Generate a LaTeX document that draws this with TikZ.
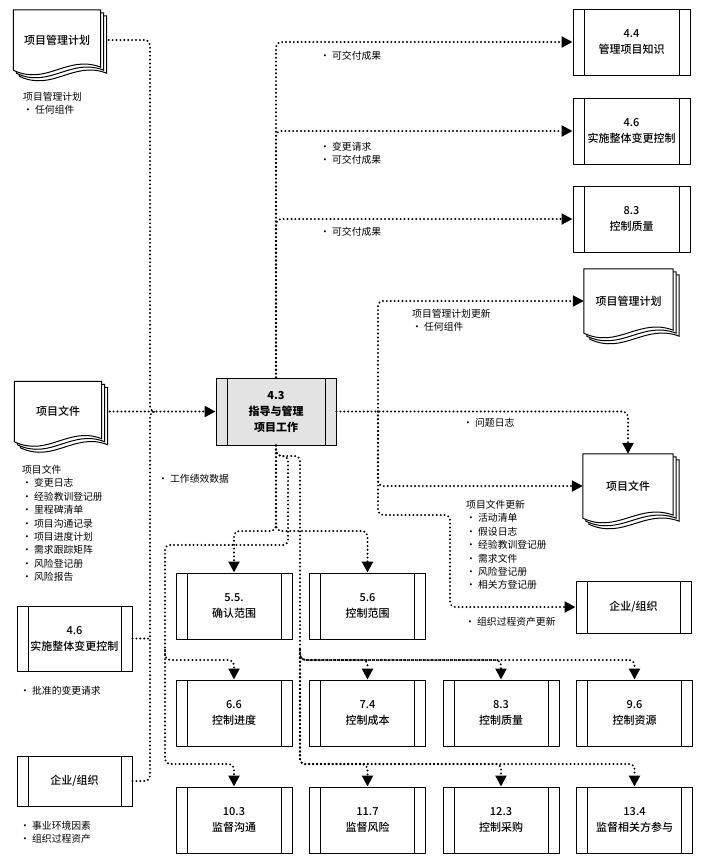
\documentclass[tikz,border=0pt]{standalone}
\usepackage{fontspec}
\setmainfont{Noto Sans CJK SC}
\newfontfamily\medfont{Noto Sans CJK SC Medium}
\usetikzlibrary{positioning, backgrounds, arrows.meta, calc}
\newcommand{\boxfont}{\medfont\fontsize{11}{16}\selectfont}
\newcommand{\lblfont}{\fontsize{9.8}{13.4}\selectfont}
\tikzset{
  proc/.style={draw, line width=1pt, fill=white, minimum width=116pt, minimum height=66pt,
               inner sep=0pt, align=center, font=\boxfont,
               path picture={\draw[line width=1pt]
                 ([xshift=11pt]path picture bounding box.north west) -- ([xshift=11pt]path picture bounding box.south west)
                 ([xshift=-11pt]path picture bounding box.north east) -- ([xshift=-11pt]path picture bounding box.south east);}},
  doc/.style={minimum width=87pt, minimum height=60pt, inner sep=0pt, align=center, font=\boxfont},
  docline/.style={line width=1pt, fill=white},
  lbl/.style={anchor=north west, inner sep=0pt, align=left, font=\lblfont},
  flow/.style={line width=2.2pt, line cap=round, dash pattern=on 0pt off 3.9pt, rounded corners=5pt},
  arr/.style={-{Triangle[length=11pt, width=11pt]}},
}
\newcommand{\docstack}[1]{%
  \foreach \o in {6,3,0}{
    \draw[docline, transform canvas={shift={(\o pt,-\o pt)}}]
      (#1.north west) -- (#1.north east) -- ([yshift=3pt]#1.south east)
      .. controls ($(#1.south west)!0.62!(#1.south east)+(0,16pt)$)
      and ($(#1.south west)!0.38!(#1.south east)+(0,-16pt)$) .. (#1.south west) -- cycle;
  }%
}

\begin{document}
\begin{tikzpicture}[x=1pt, y=-1pt, node distance=16.5pt]
  \useasboundingbox (0,0) rectangle (705,868);

  % inputs
  \node[doc] (pmpL) at (57,40) {项目管理计划};
  \node[doc] (docL) at (58,411.5) {项目文件};
  \node[proc, minimum width=115pt, minimum height=65pt] (chg) at (74.5,638.5) {4.6\\实施整体变更控制};
  \node[proc, minimum width=115pt, minimum height=50pt] (orgL) at (74.5,781) {企业/组织};

  \node[proc, fill=gray!22, minimum width=120pt, minimum height=67pt,
        font=\fontsize{11}{16}\selectfont\bfseries] (p43) at (276,411.5) {4.3\\指导与管理\\项目工作};

  % outputs
  \node[proc, minimum width=117pt] (p44) at (631.5,42) {4.4\\管理项目知识};
  \node[proc, minimum width=117pt, below=22pt of p44] (p46) {4.6\\实施整体变更控制};
  \node[proc, minimum width=117pt, below=21pt of p46] (q83) {8.3\\控制质量};
  \node[doc, minimum width=89pt, minimum height=64pt] (pmpR) at (628.5,301) {项目管理计划};
  \node[doc, minimum width=90pt, minimum height=64pt] (docR) at (628,486) {项目文件};
  \node[proc, minimum width=115pt, minimum height=52pt] (orgR) at (633.5,607) {企业/组织};

  \node[proc] (p55) at (234,606) {5.5.\\确认范围};
  \node[proc, right=of p55] (p56) {5.6\\控制范围};
  \node[proc, below=40pt of p55] (p66) {6.6\\控制进度};
  \node[proc, right=of p66] (p74) {7.4\\控制成本};
  \node[proc, right=of p74] (p83) {8.3\\控制质量};
  \node[proc, right=of p83] (p96) {9.6\\控制资源};
  \node[proc, below=40pt of p66] (p103) {10.3\\监督沟通};
  \node[proc, right=of p103] (p117) {11.7\\监督风险};
  \node[proc, right=of p117] (p123) {12.3\\控制采购};
  \node[proc, right=of p123] (p134) {13.4\\监督相关方参与};

  \begin{scope}[on background layer]
    \docstack{pmpL}
    \docstack{docL}
    \docstack{pmpR}
    \docstack{docR}
  \end{scope}

  % labels
  \node[lbl] (tpmp) at (23,92) {项目管理计划\\• 任何组件};
  \node[lbl] (tdoc) at (22,465) {项目文件\\• 变更日志\\• 经验教训登记册\\• 里程碑清单\\• 项目沟通记录\\• 项目进度计划\\• 需求跟踪矩阵\\• 风险登记册\\• 风险报告};
  \node[lbl] (twpd) at (158,474) {• 工作绩效数据};
  \node[lbl] (tacr) at (20,686) {• 批准的变更请求};
  \node[lbl] (teef) at (20,821) {• 事业环境因素\\• 组织过程资产};
  \node[lbl] (td1) at (320,51) {• 可交付成果};
  \node[lbl] (td2) at (320,142) {• 变更请求\\• 可交付成果};
  \node[lbl] (td3) at (320,227) {• 可交付成果};
  \node[lbl] (tpu) at (412,309) {项目管理计划更新\\• 任何组件};
  \node[lbl] (til) at (463,418) {• 问题日志};
  \node[lbl] (tdu) at (466,500) {项目文件更新\\• 活动清单\\• 假设日志\\• 经验教训登记册\\• 需求文件\\• 风险登记册\\• 相关方登记册};
  \node[lbl] (topa) at (465,617) {• 组织过程资产更新};

  % junctions
  \coordinate (lbus) at (150,411.5);
  \coordinate (lbusR) at (155,411.5);
  \coordinate (rbus) at (378,411.5);
  \coordinate (rorg) at (450,515);
  \coordinate (bstart) at (276,456);
  \coordinate (bB) at (288,545);
  \coordinate (cB) at (300,660);
  \coordinate (lD) at (165,764);
  \coordinate (lC) at (165,650);
  \coordinate (cC) at (300,650);
  \coordinate (rowA) at (0,531);
  \coordinate (rowC) at (0,660);
  \coordinate (rowD) at (0,764);

  % left side
  \draw[flow] ([xshift=8pt]pmpL.east) -| (lbus) -- (lbusR);
  \draw[flow] (orgL.east) -| (lbus) -- (lbusR);
  \draw[flow] (chg.east) -- (chg.east -| lbus);
  \draw[flow, arr] ([xshift=8pt]docL.east) -- (p43.west);

  % top
  \draw[flow, arr] (p43.north) |- (p44.west);
  \draw[flow, arr] (p43.north) |- (p46.west);
  \draw[flow, arr] (p43.north) |- (q83.west);

  % right
  \draw[flow, arr] (p43.east) -| (docR.north);
  \draw[flow, arr] (rbus) |- (pmpR.west);
  \draw[flow, arr] (rbus) |- (docR.west);
  \draw[flow, arr] (rbus) |- (rorg) |- (orgR.west);

  % bottom
  \draw[flow, arr] (p43.south) |- (rowA -| p55.north) -- (p55.north);
  \draw[flow, arr] (p43.south) |- (rowA -| p56.north) -- (p56.north);
  \draw[flow, arr] (p43.south) -- (bstart) -| (bB) -| (lD) -| (p103.north);
  \draw[flow, arr] (lC) |- (rowC -| p66.north) -- (p66.north);
  \draw[flow, arr] (p43.south) -- (bstart) -| (cB) -| (p96.north);
  \draw[flow, arr] (cC) |- (rowC -| p74.north) -- (p74.north);
  \draw[flow, arr] (cC) |- (rowC -| p83.north) -- (p83.north);
  \draw[flow, arr] (cC) |- (rowD -| p117.north) -- (p117.north);
  \draw[flow, arr] (cC) |- (rowD -| p123.north) -- (p123.north);
  \draw[flow, arr] (cC) |- (rowD -| p134.north) -- (p134.north);
\end{tikzpicture}
\end{document}
